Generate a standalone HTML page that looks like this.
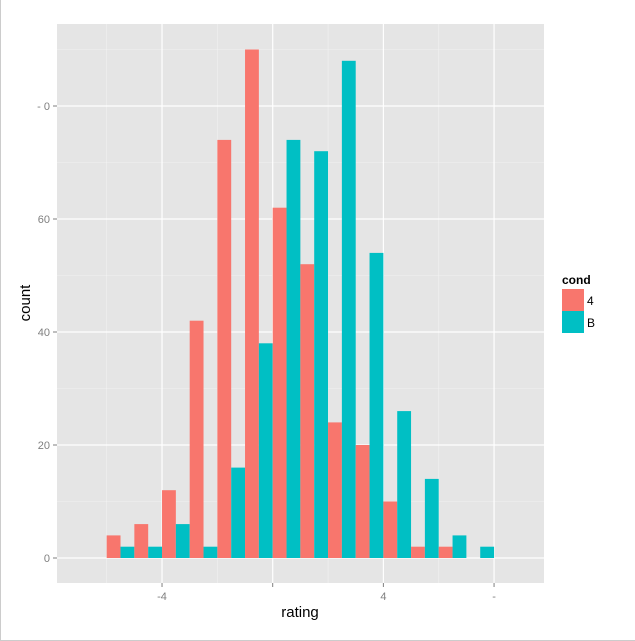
<!DOCTYPE html>
<html><head><meta charset="utf-8"><style>
body{margin:0;background:#fff;}
svg{display:block;font-family:"Liberation Sans",sans-serif;}
</style></head><body>
<svg id="chart" width="635" height="641">
<rect x="0" y="0" width="635" height="641" fill="#fff"/>
<line x1="0.5" y1="0" x2="0.5" y2="641" stroke="#ccc"/>
<line x1="0" y1="640.5" x2="635" y2="640.5" stroke="#ccc"/>
<rect x="57" y="24" width="487" height="559" fill="#e5e5e5"/>
<g id="grid"></g><g id="bars"></g><g id="axes"></g>
<text x="300" y="617" font-size="15" text-anchor="middle" fill="#000">rating</text>
<text transform="translate(30,303) rotate(-90)" font-size="15" text-anchor="middle" fill="#000">count</text>
<g>
<text x="562" y="284" font-size="12" font-weight="bold">cond</text>
<rect x="562" y="289" width="22" height="22" fill="#f8766d"/>
<rect x="562" y="311" width="22" height="22" fill="#00bfc4"/>
<text x="587" y="305" font-size="12">4</text>
<text x="587" y="327" font-size="12">B</text>
</g>
</svg>
<script>
const binCenters=[-5.5,-4.5,-3.5,-2.5,-1.5,-0.5,0.5,1.5,2.5,3.5,4.5,5.5,6.5,7.5];
const countsA=[4,6,12,42,74,90,62,52,24,20,10,2,2,0];
const countsB=[2,2,6,2,16,38,74,72,88,54,26,14,4,2];
const yTicks=[0,20,40,60,80];
const yTickLabels=["0","20","40","60","- 0"];
const xTicks=[-4,0,4,8];
const xTickLabels=["-4","","4","-"];
const binWidth=1;
const NS="http://www.w3.org/2000/svg";
const xs=v=>272.7+v*27.67;
const ys=v=>558-v*5.65;
function mk(tag,attrs,parent){const e=document.createElementNS(NS,tag);for(const k in attrs)e.setAttribute(k,attrs[k]);parent.appendChild(e);return e;}
const grid=document.getElementById('grid'),bars=document.getElementById('bars'),axes=document.getElementById('axes');
for(let i=0;i<yTicks.length;i++){const v=yTicks[i]+10;const y=ys(v);if(y>24){const l=mk('line',{x1:57,x2:544,y1:y,y2:y,stroke:'#f2f2f2','stroke-width':0.6},grid);}}
for(let i=0;i<xTicks.length;i++){const x=xs(xTicks[i]-2);if(x>57){const l=mk('line',{x1:x,x2:x,y1:24,y2:583,stroke:'#f2f2f2','stroke-width':0.6},grid);}}
for(let i=0;i<yTicks.length;i++){const y=ys(yTicks[i]);
 const l=mk('line',{x1:57,x2:544,y1:y,y2:y,stroke:'#fff','stroke-width':1.2},grid);
 const t=mk('line',{x1:53,x2:57,y1:y,y2:y,stroke:'#7f7f7f'},axes);
 const tx=mk('text',{x:50,y:y+4,'font-size':11,'text-anchor':'end',fill:'#7f7f7f'},axes);tx.textContent=yTickLabels[i];}
for(let i=0;i<xTicks.length;i++){const x=xs(xTicks[i]);
 const l=mk('line',{x1:x,x2:x,y1:24,y2:583,stroke:'#fff','stroke-width':1.2},grid);
 const t=mk('line',{x1:x,x2:x,y1:583,y2:587,stroke:'#7f7f7f'},axes);
 const tx=mk('text',{x:x,y:600,'font-size':11,'text-anchor':'middle',fill:'#7f7f7f'},axes);tx.textContent=xTickLabels[i];}
for(let i=0;i<binCenters.length;i++){const c=binCenters[i];const x0=xs(c-binWidth/2),xm=xs(c),x1=xs(c+binWidth/2);
 if(countsA[i]>0){const r=mk('rect',{x:x0,y:ys(countsA[i]),width:xm-x0,height:ys(0)-ys(countsA[i]),fill:'#f8766d'},bars);}
 if(countsB[i]>0){const r=mk('rect',{x:xm,y:ys(countsB[i]),width:x1-xm,height:ys(0)-ys(countsB[i]),fill:'#00bfc4'},bars);}}
</script>
</body></html>
